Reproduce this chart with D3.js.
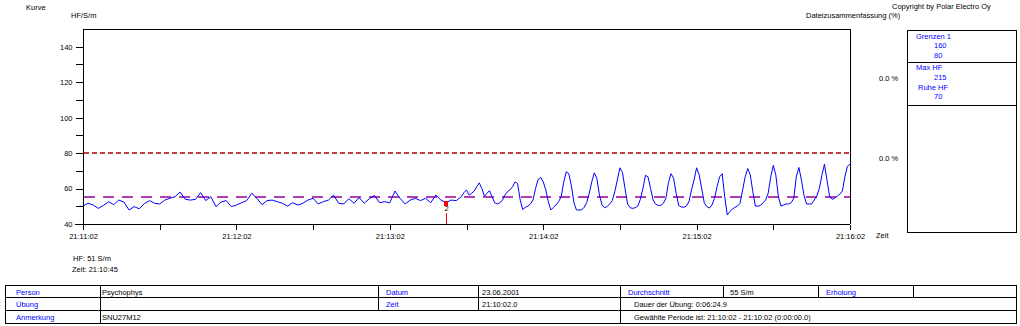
<!DOCTYPE html>
<html>
<head>
<meta charset="utf-8">
<title>Kurve</title>
<script src="https://d3js.org/d3.v7.min.js"></script>
<style>
  body { margin: 0; background: #fff; }
  svg text { font-family: "Liberation Sans", Arial, sans-serif; font-size: 7.5px; fill: #000; }
  .blue { fill: #0000ff; }
</style>
</head>
<body>
<script>
// Herzfrequenz, Start 21:11:02 -- erster Teil alle 2 s, danach jede Sekunde
const hrEarly = [50.1,51.7,50.7,48.8,50.5,52.6,50.9,53.5,52.4,47.9,49.8,48.6,51.5,53.2,51.7,51.3,53.5,54.5,55.4,58.0,
  53.9,53.5,53.9,57.7,53.2,55.4,49.8,52.4,53.2,49.8,50.7,52.0,53.2,57.3,54.5,50.9,53.2,53.5,52.6,51.7,
  50.1,52.0,50.7,51.7,53.5,54.5,51.3,52.6,53.5,56.3,51.7,51.3,54.3,51.7,54.9,51.7,54.3,56.1,52.0,52.6,
  52.0,58.6,54.5,51.3,53.5,54.5,53.2,54.5,52.0,56.3,53.5,52.0,53.5,53.2];
const hrLate = [54.3,55.4,57.7,59.2,56.3,57.3,58.6,61.0,63.2,60.0,55.7,57.3,58.8,55.4,52.0,51.3,52.0,53.2,56.3,58.2,
  59.2,61.0,63.8,62.8,53.5,48.2,49.4,50.1,51.3,53.5,60.0,65.1,66.2,63.8,59.4,52.6,47.9,49.4,50.7,52.6,
  55.2,63.4,69.5,68.4,61.8,52.2,47.9,47.9,47.9,49.4,
  52.0,57.3,63.8,68.9,65.6,56.3,50.7,49.2,49.8,51.3,
  53.2,58.2,64.8,71.7,69.1,60.0,51.3,49.2,48.8,49.2,
  50.1,53.9,60.0,67.5,66.6,60.0,53.5,51.1,50.5,50.5,
  51.7,54.5,63.4,68.4,65.8,57.3,50.5,49.6,49.4,50.1,
  52.6,59.2,64.8,71.7,67.7,60.0,52.0,49.8,49.0,50.7,
  54.5,61.0,66.6,68.4,55.4,45.1,47.0,48.4,49.4,50.1,
  51.7,59.2,66.6,71.3,67.7,58.2,50.1,50.1,50.5,52.0,
  53.5,57.3,66.6,73.1,67.5,55.4,50.1,50.7,51.3,51.3,
  52.0,54.5,66.6,71.9,64.8,56.3,51.3,51.3,51.3,53.5,
  55.7,60.0,67.5,73.7,64.8,55.7,53.9,54.5,55.7,56.8,
  58.6,66.6,72.6,73.7];
const lateStart = 147;

const yTicks = [40,50,60,70,80,90,100,110,120,130,140];
const xTickLabels = ["21:11:02","21:12:02","21:13:02","21:14:02","21:15:02","21:16:02"];
const upperLimit = 80;
const average = 55;
const markerTimes = [142];
const markerValues = [52];
const markerLabels = ["2"];

const panelLines = [
  ["Grenzen 1", "160", "80"],
  ["Max HF", "215", "Ruhe HF", "70"]
];
const zoneShares = ["0.0 %", "0.0 %"];

const rowLabels = ["Person", "Übung", "Anmerkung"];
const rowValues = ["Psychophys", "", "SNU27M12"];
const midLabels = ["Datum", "Zeit"];
const midValues = ["23.06.2001", "21:10:02.0"];
const summary = ["Durchschnitt", "55 S/m", "Erholung", ""];
const rightTexts = ["Dauer der Übung: 0:06:24.9", "Gewählte Periode ist: 21:10:02 - 21:10:02 (0:00:00.0)"];

// Zeitachse
const t0 = new Date(2001, 5, 23, 21, 11, 2);
const sec = s => d3.timeSecond.offset(t0, s);
const data = hrEarly.map((v, i) => ({ t: sec(i * 2), v: v }))
  .concat(hrLate.map((v, i) => ({ t: sec(lateStart + i), v: v })));

const svg = d3.select("body").append("svg")
  .attr("width", 1020).attr("height", 326);

const x = d3.scaleTime().domain([sec(0), sec(300)]).range([83, 850]);
const y = d3.scaleLinear().domain([40, 150]).range([224, 29]);
const crisp = v => Math.round(v) + 0.5;

// Rahmen oben/rechts
svg.append("path")
  .attr("d", "M83,29.5H850.5V224")
  .attr("fill", "none").attr("stroke", "#000").attr("shape-rendering", "crispEdges");

// Y-Achse
const yAxis = svg.append("g")
  .attr("transform", "translate(83.5,0)")
  .call(d3.axisLeft(y).tickValues(yTicks).tickSize(8).tickSizeOuter(0).tickPadding(3)
    .tickFormat(d => d % 20 === 0 ? d : ""));

// X-Achse
const xTickTimes = d3.range(0, 301, 30).map(sec);
const xAxis = svg.append("g")
  .attr("transform", "translate(0,224.5)")
  .call(d3.axisBottom(x).tickValues(xTickTimes).tickSize(5).tickSizeOuter(0).tickPadding(4)
    .tickFormat((d, i) => i % 2 === 0 ? xTickLabels[i / 2] : ""));

[yAxis, xAxis].forEach(g => {
  g.attr("font-family", null).attr("font-size", null);
  g.selectAll("path, line").attr("stroke", "#000").attr("shape-rendering", "crispEdges");
  g.selectAll("text").attr("fill", "#000");
});
yAxis.select(".domain").attr("d", "M0,29V224");
xAxis.select(".domain").attr("d", "M75,0H850");

// Grenz- und Durchschnittslinien
svg.append("line")
  .attr("x1", 84).attr("x2", 850).attr("y1", Math.round(y(upperLimit))).attr("y2", Math.round(y(upperLimit)))
  .attr("stroke", "#b00000").attr("stroke-width", 1.4).attr("stroke-dasharray", "5,3");
svg.append("line")
  .attr("x1", 84).attr("x2", 850).attr("y1", Math.round(y(average))).attr("y2", Math.round(y(average)))
  .attr("stroke", "#990099").attr("stroke-width", 1.4).attr("stroke-dasharray", "11,8");

// HF-Kurve
const line = d3.line().x(d => x(d.t)).y(d => y(d.v));
svg.append("path").datum(data)
  .attr("d", line).attr("fill", "none").attr("stroke", "#0000ff").attr("stroke-width", 1);

// Markierung
markerTimes.forEach((m, i) => {
  const mx = crisp(x(sec(m)));
  svg.append("rect").attr("x", mx - 2.5).attr("y", Math.round(y(markerValues[i])) - 2)
    .attr("width", 4).attr("height", 5).attr("fill", "#ff0000");
  svg.append("text").attr("x", mx).attr("y", 211).attr("text-anchor", "middle").text(markerLabels[i]);
  svg.append("line").attr("x1", mx).attr("x2", mx).attr("y1", 213).attr("y2", 224)
    .attr("stroke", "#ff0000").attr("shape-rendering", "crispEdges");
});

// Kopfzeilen
svg.append("text").attr("x", 26).attr("y", 9.5).text("Kurve");
svg.append("text").attr("x", 71).attr("y", 18).text("HF/S/m");
svg.append("text").attr("x", 876).attr("y", 238).text("Zeit");
svg.append("text").attr("x", 892).attr("y", 9).text("Copyright by Polar Electro Oy");
svg.append("text").attr("x", 806).attr("y", 18).text("Dateizusammenfassung (%)");
svg.append("text").attr("x", 73).attr("y", 261).text("HF: 51 S/m");
svg.append("text").attr("x", 72).attr("y", 272).text("Zeit: 21:10:45");

zoneShares.forEach((s, i) => {
  svg.append("text").attr("x", 879).attr("y", [81, 161][i]).text(s);
});

// Panel rechts
svg.append("rect").attr("x", 907.5).attr("y", 30.5).attr("width", 109).attr("height", 202)
  .attr("fill", "none").attr("stroke", "#000").attr("shape-rendering", "crispEdges");
[62.5, 105.5].forEach(py => svg.append("line").attr("x1", 907).attr("x2", 1017)
  .attr("y1", py).attr("y2", py).attr("stroke", "#000").attr("shape-rendering", "crispEdges"));
const panelY = [[38.5, 47.5, 57.5], [70, 80, 89.5, 99]];
const panelX = [[916, 934, 934], [916, 934, 918, 934]];
panelLines.forEach((grp, g) => grp.forEach((t, i) => {
  svg.append("text").attr("class", "blue").attr("x", panelX[g][i]).attr("y", panelY[g][i]).text(t);
}));

// Tabelle unten
const tb = svg.append("g").attr("shape-rendering", "crispEdges").attr("stroke", "#000").attr("fill", "none");
const rowsY = [285.5, 297.5, 310.5, 323.5];
tb.append("rect").attr("x", 5.5).attr("y", 285.5).attr("width", 1011).attr("height", 38);
[297.5, 310.5].forEach(ry => tb.append("line").attr("x1", 5).attr("x2", 1017).attr("y1", ry).attr("y2", ry));
[[100.5, 285, 324], [378.5, 285, 311], [478.5, 285, 311], [620.5, 285, 324],
 [723.5, 285, 298], [818.5, 285, 298], [913.5, 285, 298]].forEach(c =>
  tb.append("line").attr("x1", c[0]).attr("x2", c[0]).attr("y1", c[1]).attr("y2", c[2]));

rowLabels.forEach((t, i) => {
  const by = rowsY[i] + 9;
  svg.append("text").attr("class", "blue").attr("x", 16).attr("y", by).text(t);
  svg.append("text").attr("x", 102).attr("y", by).text(rowValues[i]);
});
midLabels.forEach((t, i) => {
  const by = rowsY[i] + 9;
  svg.append("text").attr("class", "blue").attr("x", 386).attr("y", by).text(t);
  svg.append("text").attr("x", 482).attr("y", by).text(midValues[i]);
});
[628, 730, 826, 920].forEach((sx, i) => {
  svg.append("text").attr("class", i % 2 === 0 ? "blue" : null)
    .attr("x", sx).attr("y", rowsY[0] + 9).text(summary[i]);
});
rightTexts.forEach((t, i) => {
  svg.append("text").attr("x", 634).attr("y", rowsY[i + 1] + 9).text(t);
});
</script>
</body>
</html>
